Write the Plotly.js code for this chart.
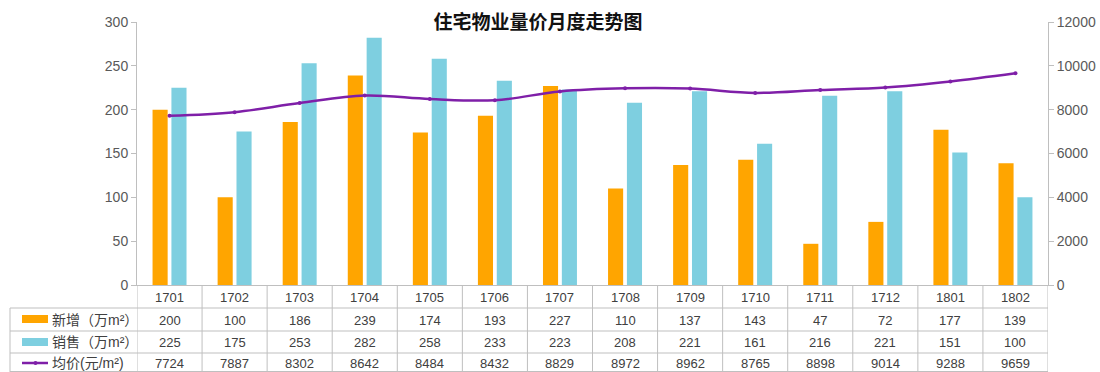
<!DOCTYPE html>
<html><head><meta charset="utf-8">
<script src="https://cdn.plot.ly/plotly-3.0.1.min.js"></script>
<style>body{margin:0;background:#fff}#c{width:1100px;height:372px}</style>
</head><body><div id="c"></div>
<script>
const categories = ['1701','1702','1703','1704','1705','1706','1707','1708','1709','1710','1711','1712','1801','1802'];
const newSupply = [200,100,186,239,174,193,227,110,137,143,47,72,177,139];
const sales = [225,175,253,282,258,233,223,208,221,161,216,221,151,100];
const avgPrice = [7724,7887,8302,8642,8484,8432,8829,8972,8962,8765,8898,9014,9288,9659];
const rowLabels = ['新增（万m²）','销售（万m²）','均价(元/m²)'];
const title = '住宅物业量价月度走势图';

const W=1100,H=372,L=137,R=52,T=22,B=87;
const pw=W-L-R, ph=H-T-B;
const px = x => (x-L)/pw;
const py = y => (H-B-y)/ph;
const orange='#FFA500', cyan='#7ECFE0', purple='#7F1FA8';
const gridC='#BFBFBF', txtC='#404040';
const font="'Liberation Sans', 'Noto Sans CJK SC', sans-serif";

const traces=[
 {type:'bar',x:categories,y:newSupply,name:rowLabels[0],marker:{color:orange},hoverinfo:'y'},
 {type:'bar',x:categories,y:sales,name:rowLabels[1],marker:{color:cyan},hoverinfo:'y'},
 {type:'scatter',mode:'lines+markers',x:categories,y:avgPrice,yaxis:'y2',name:rowLabels[2],
  line:{color:purple,width:2.5,shape:'spline'},marker:{color:purple,size:4}}
];

const shapes=[], ann=[];
const n=categories.length;
for(let k=0;k<=n;k++){
  shapes.push({type:'line',xref:'x',yref:'paper',x0:k-0.5,x1:k-0.5,y0:0,y1:py(H),line:{color:gridC,width:1}});
}
[308,331,353,371.5].forEach(y=>{
  shapes.push({type:'line',xref:'paper',yref:'paper',x0:px(10),x1:1,y0:py(y),y1:py(y),line:{color:gridC,width:1}});
});
shapes.push({type:'line',xref:'paper',yref:'paper',x0:px(10),x1:px(10),y0:py(308),y1:py(372),line:{color:gridC,width:1}});
shapes.push({type:'rect',xref:'paper',yref:'paper',x0:px(22),x1:px(48),y0:py(323),y1:py(315),fillcolor:orange,line:{width:0}});
shapes.push({type:'rect',xref:'paper',yref:'paper',x0:px(22),x1:px(48),y0:py(346),y1:py(338),fillcolor:cyan,line:{width:0}});
shapes.push({type:'line',xref:'paper',yref:'paper',x0:px(22),x1:px(48),y0:py(363),y1:py(363),line:{color:purple,width:2.5}});
shapes.push({type:'circle',xref:'paper',yref:'paper',x0:px(33.5),x1:px(37.5),y0:py(365),y1:py(361),fillcolor:purple,line:{width:0}});

const rowsY=[297,320,342,363];
const rowsData=[categories,newSupply,sales,avgPrice];
rowsData.forEach((arr,ri)=>{
  arr.forEach((v,i)=>{
    ann.push({xref:'x',yref:'paper',x:i,y:py(rowsY[ri]),text:String(v),showarrow:false,
      font:{family:font,size:13,color:txtC},xanchor:'center',yanchor:'middle'});
  });
});
rowLabels.forEach((t,i)=>{
  ann.push({xref:'paper',yref:'paper',x:px(50),y:py(rowsY[i+1]),text:t,showarrow:false,
    font:{family:font,size:14,color:txtC},xanchor:'left',yanchor:'middle'});
});

const layout={
  width:W,height:H,margin:{l:L,r:R,t:T,b:B},
  paper_bgcolor:'#fff',plot_bgcolor:'rgba(0,0,0,0)',
  showlegend:false,barmode:'group',bargap:0.42,bargroupgap:0.2,
  title:{text:'<b>'+title+'</b>',x:538/W,xref:'container',xanchor:'center',y:1-22/H,yref:'container',yanchor:'middle',
    font:{family:"'Noto Sans CJK SC', sans-serif",size:19,color:'#111'}},
  xaxis:{type:'category',showticklabels:false,ticks:'',showgrid:false,zeroline:false,showline:true,linecolor:gridC,linewidth:1,range:[-0.5,n-0.5],fixedrange:true},
  yaxis:{range:[0,300],dtick:50,showgrid:false,zeroline:false,showline:true,linecolor:gridC,ticks:'outside',ticklen:5,tickcolor:gridC,
    tickfont:{family:font,size:14,color:'#595959'}},
  yaxis2:{range:[0,12000],dtick:2000,tickformat:'d',overlaying:'y',side:'right',showgrid:false,zeroline:false,showline:true,linecolor:gridC,ticks:'outside',ticklen:5,tickcolor:gridC,
    tickfont:{family:font,size:14,color:'#595959'}},
  shapes:shapes,annotations:ann
};
Plotly.newPlot('c',traces,layout,{displayModeBar:false,staticPlot:true});
</script></body></html>
